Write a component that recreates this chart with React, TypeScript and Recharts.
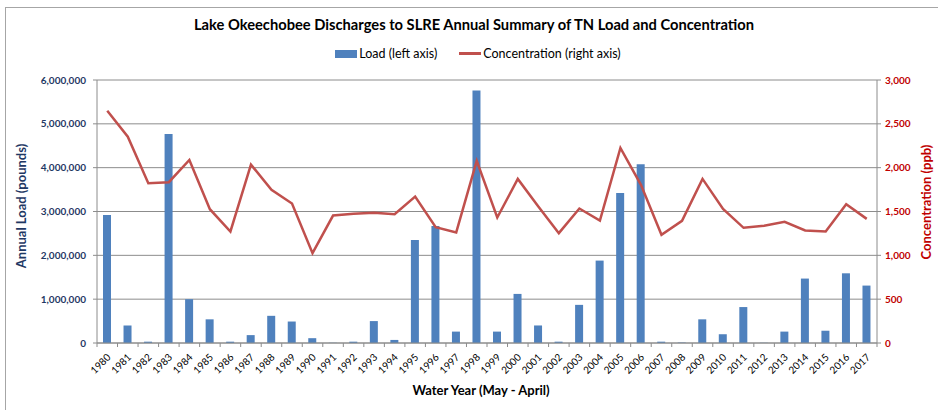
import React from 'react';
import { ComposedChart, Bar, Line, XAxis, YAxis, CartesianGrid } from 'recharts';

const years = [
  '1980', '1981', '1982', '1983', '1984', '1985', '1986', '1987', '1988', '1989',
  '1990', '1991', '1992', '1993', '1994', '1995', '1996', '1997', '1998', '1999',
  '2000', '2001', '2002', '2003', '2004', '2005', '2006', '2007', '2008', '2009',
  '2010', '2011', '2012', '2013', '2014', '2015', '2016', '2017',
];

const loads = [
  2920000, 400000, 30000, 4770000, 1000000, 540000, 30000, 180000, 620000, 490000,
  110000, 5000, 30000, 500000, 70000, 2350000, 2670000, 260000, 5760000, 260000,
  1120000, 400000, 30000, 870000, 1880000, 3420000, 4080000, 30000, 10000, 540000,
  200000, 820000, 5000, 260000, 1470000, 280000, 1590000, 1310000,
];

const concentrations = [
  2650, 2354, 1823, 1834, 2088, 1526, 1272, 2035, 1747, 1591,
  1025, 1454, 1473, 1485, 1469, 1671, 1321, 1261, 2077, 1431,
  1872, 1557, 1253, 1534, 1397, 2225, 1804, 1234, 1393, 1872,
  1530, 1314, 1337, 1382, 1283, 1272, 1583, 1416,
];

const loadTicks = [0, 1000000, 2000000, 3000000, 4000000, 5000000, 6000000];
const concTicks = [0, 500, 1000, 1500, 2000, 2500, 3000];

const data = years.map((year, i) => ({ year, load: loads[i], conc: concentrations[i] }));

const W = 938;
const H = 410;
const LEFT_W = 97;
const RIGHT_W = 61;
const TOP = 80;
const XH = 67;
const PLOT_W = W - LEFT_W - RIGHT_W;
const NAVY = '#1F3864';
const RED = '#C00000';
const GRID = '#8C8C8C';
const FONT = 'Lato, "Open Sans", sans-serif';

const fmt = (v: number) => v.toLocaleString('en-US');

const XTick = (props: any) => {
  const { x, y, payload, index } = props;
  const bw = PLOT_W / years.length;
  return (
    <g>
      <line x1={x - bw / 2} x2={x - bw / 2} y1={y} y2={y + 4} stroke={GRID} />
      {index === years.length - 1 && (
        <line x1={x + bw / 2} x2={x + bw / 2} y1={y} y2={y + 4} stroke={GRID} />
      )}
      <text
        transform={`translate(${x + 4},${y + 15}) rotate(-45)`}
        textAnchor="end"
        fontSize={10}
        fill="#000"
        fontFamily={FONT}
      >
        {payload.value}
      </text>
    </g>
  );
};

export default function App() {
  return (
    <div style={{ position: 'absolute', left: 0, top: 0, width: W, height: H, background: '#fff', overflow: 'hidden' }}>
      <div
        style={{
          position: 'absolute',
          left: 5,
          top: 7,
          width: W,
          height: H,
          border: '1px solid #A6A6A6',
          boxSizing: 'border-box',
        }}
      />
      <div
        style={{
          position: 'absolute',
          left: 0,
          top: 15,
          width: 948,
          textAlign: 'center',
          fontFamily: FONT,
          fontWeight: 700,
          fontSize: 14.7,
          color: '#000',
        }}
      >
        Lake Okeechobee Discharges to SLRE Annual Summary of TN Load and Concentration
      </div>
      <div
        style={{
          position: 'absolute',
          left: 0,
          top: 46,
          width: 948,
          display: 'flex',
          justifyContent: 'center',
          alignItems: 'center',
          fontFamily: FONT,
          fontSize: 12.5,
          color: '#000',
          paddingLeft: 8,
          boxSizing: 'border-box',
        }}
      >
        <span style={{ display: 'inline-block', width: 22, height: 8, background: '#4F81BD', marginRight: 2 }} />
        <span style={{ marginRight: 22 }}>Load (left axis)</span>
        <span style={{ display: 'inline-block', width: 22, height: 3, background: '#C0504D', marginRight: 2 }} />
        <span>Concentration (right axis)</span>
      </div>
      <div style={{ position: 'absolute', left: 0, top: 0 }}>
        <ComposedChart
          width={W}
          height={H}
          data={data}
          margin={{ top: TOP, right: 0, bottom: 0, left: 0 }}
          barCategoryGap={0}
        >
          <CartesianGrid vertical={false} stroke={GRID} yAxisId="left" />
          <XAxis
            dataKey="year"
            height={XH}
            interval={0}
            tickLine={false}
            tickSize={0}
            tickMargin={0}
            axisLine={{ stroke: GRID }}
            tick={<XTick />}
          />
          <YAxis
            yAxisId="left"
            orientation="left"
            width={LEFT_W}
            domain={[0, 6000000]}
            ticks={loadTicks}
            tickFormatter={fmt}
            tickSize={4}
            tickMargin={7}
            tickLine={{ stroke: GRID }}
            axisLine={{ stroke: GRID }}
            tick={{ fill: NAVY, fontSize: 10, fontWeight: 700, fontFamily: FONT }}
          />
          <YAxis
            yAxisId="right"
            orientation="right"
            width={RIGHT_W}
            domain={[0, 3000]}
            ticks={concTicks}
            tickFormatter={fmt}
            tickSize={4}
            tickMargin={4}
            tickLine={{ stroke: GRID }}
            axisLine={{ stroke: GRID }}
            tick={{ fill: RED, fontSize: 10, fontWeight: 700, fontFamily: FONT }}
          />
          <Bar yAxisId="left" dataKey="load" name="Load (left axis)" fill="#4F81BD" barSize={8} isAnimationActive={false} />
          <Line
            yAxisId="right"
            dataKey="conc"
            name="Concentration (right axis)"
            stroke="#C0504D"
            strokeWidth={2.5}
            dot={false}
            activeDot={false}
            isAnimationActive={false}
          />
        </ComposedChart>
      </div>
      <div
        style={{
          position: 'absolute',
          left: 21,
          top: 206,
          transform: 'translate(-50%, -50%) rotate(-90deg)',
          whiteSpace: 'nowrap',
          fontFamily: FONT,
          fontWeight: 700,
          fontSize: 13,
          color: NAVY,
        }}
      >
        Annual Load (pounds)
      </div>
      <div
        style={{
          position: 'absolute',
          left: 926,
          top: 202,
          transform: 'translate(-50%, -50%) rotate(-90deg)',
          whiteSpace: 'nowrap',
          fontFamily: FONT,
          fontWeight: 700,
          fontSize: 13,
          color: RED,
        }}
      >
        Concentration (ppb)
      </div>
      <div
        style={{
          position: 'absolute',
          left: 481,
          top: 390,
          transform: 'translate(-50%, -50%)',
          whiteSpace: 'nowrap',
          fontFamily: FONT,
          fontWeight: 700,
          fontSize: 13,
          color: '#000',
        }}
      >
        Water Year (May - April)
      </div>
    </div>
  );
}
